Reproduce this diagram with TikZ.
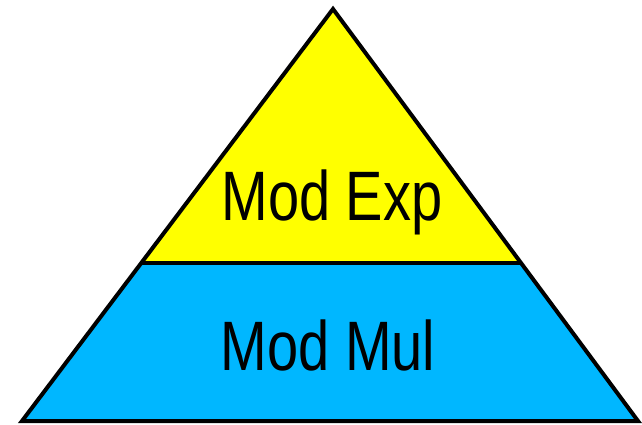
\documentclass[tikz,border=0pt]{standalone}
\usepackage{fontspec}
\usetikzlibrary{calc}
\setmainfont{Liberation Sans}[FakeStretch=0.8]
\definecolor{topyellow}{RGB}{255,255,0}
\definecolor{botcyan}{RGB}{0,183,255}
\begin{document}
\begin{tikzpicture}[x=1pt,y=-1pt,
  edge/.style={draw=black,line width=4pt,line join=miter},
  label/.style={anchor=base,inner sep=0pt,font=\fontsize{70}{70}\selectfont}]
\useasboundingbox (0,0) rectangle (642,424);
\coordinate (apex) at (333,9);
\coordinate (bl) at (22,421);
\coordinate (br) at (638,421);
\coordinate (ml) at ($(apex)!0.6165!(bl)$);
\coordinate (mr) at ($(apex)!0.6165!(br)$);
\fill[topyellow] (apex) -- (mr) -- (ml) -- cycle;
\fill[botcyan] (ml) -- (mr) -- (br) -- (bl) -- cycle;
\draw[edge] (apex) -- (br) -- (bl) -- cycle;
\draw[draw=black,line width=4pt] (ml) -- (mr);
\node[label] (exp) at (332,220) {Mod Exp};
\node[label] (mul) at (328,370) {Mod Mul};
\end{tikzpicture}
\end{document}
